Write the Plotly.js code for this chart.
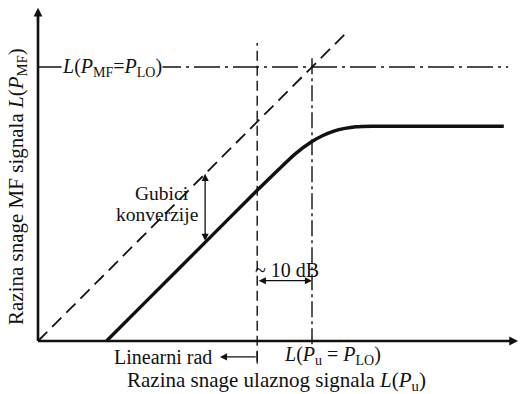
<!DOCTYPE html>
<html>
<head>
<meta charset="utf-8">
<script src="https://cdn.plot.ly/plotly-3.0.1.min.js"></script>
<style>
  html, body { margin: 0; padding: 0; background: #fff; }
  #chart { width: 520px; height: 394px; }
</style>
</head>
<body>
<div id="chart"></div>
<script>
// Mixer conversion characteristic, levels in dB (arbitrary reference).
// Ideal (loss-free) transfer: output level equals input level.
const idealIn  = [0, 56.5];
const idealOut = [0, 56.5];

// Real IF output level versus RF input level: linear with conversion loss,
// compressing and then saturating.
const inputLevel = [12.5, 20, 30, 40, 44, 47, 50, 52, 54, 56, 58, 61, 85];
const ifLevel    = [0, 7.5, 17.5, 27.5, 31.4, 34.2, 36.4, 37.5, 38.3, 38.8, 39.1, 39.2, 39.2];

// Reference levels
const loLevel = 50;          // L(P_MF = P_LO) and L(P_u = P_LO)
const linearLimit = 40;      // end of linear operation, ~10 dB below P_LO
const lossAt = 30.5;         // input level where conversion loss is marked
const lossTop = 30.5;        // ideal output at that input
const lossBottom = 18;       // real output at that input

const axisEndX = 87.6;
const axisEndY = 60.8;

const serif = 'Liberation Serif, Times New Roman, serif';
const black = '#111';

const traces = [
  // axes
  { x: [0, axisEndX - 1], y: [0, 0], mode: 'lines', line: { color: black, width: 2.6 } },
  { x: [0, 0], y: [0, axisEndY - 1], mode: 'lines', line: { color: black, width: 2.6 } },
  // ideal 1:1 line
  { x: idealIn, y: idealOut, mode: 'lines', line: { color: black, width: 1.8, dash: '13px,7px' } },
  // P_MF = P_LO level
  { x: [0, 85.8], y: [loLevel, loLevel], mode: 'lines',
    line: { color: black, width: 1.4, dash: '26px,5px,3px,5px' } },
  // linear-operation limit
  { x: [linearLimit, linearLimit], y: [-3.6, 54.4], mode: 'lines',
    line: { color: black, width: 1.4, dash: '10px,5px' } },
  // P_u = P_LO input level
  { x: [loLevel, loLevel], y: [-0.6, 51.8], mode: 'lines',
    line: { color: black, width: 1.4, dash: '16px,4px,3px,4px' } },
  // tick closing the "Linearni rad" arrow
  { x: [linearLimit, linearLimit], y: [-1.9, -4.1], mode: 'lines', line: { color: black, width: 1.4 } },
  // real mixer characteristic
  { x: inputLevel, y: ifLevel, mode: 'lines', line: { color: black, width: 3.4, shape: 'spline', smoothing: 0.6 } }
];

const arrow = (x, y, ax, ay, extra) => Object.assign({
  x: x, y: y, ax: ax, ay: ay, xref: 'x', yref: 'y', axref: 'x', ayref: 'y',
  text: '', showarrow: true, arrowhead: 2, arrowsize: 1, arrowwidth: 1.3, arrowcolor: black
}, extra || {});

const font = (size) => ({ family: serif, size: size, color: black });

const label = (x, y, text, extra) => Object.assign({
  x: x, y: y, xref: 'x', yref: 'y', text: text, showarrow: false, font: font(20),
  xanchor: 'center', yanchor: 'middle'
}, extra || {});

const annotations = [
  // axis arrowheads
  arrow(axisEndX, 0, axisEndX - 3, 0, { arrowwidth: 2.2, arrowsize: 0.8 }),
  arrow(0, axisEndY, 0, axisEndY - 3, { arrowwidth: 2.2, arrowsize: 0.8 }),
  // conversion loss
  arrow(lossAt, lossTop, lossAt, lossBottom, { arrowside: 'end+start', arrowsize: 1.1 }),
  // ~10 dB span
  arrow(loLevel, 11, linearLimit, 11, { arrowside: 'end+start', arrowsize: 1.1 }),
  // linear operation region
  arrow(33.2, -2.9, linearLimit, -2.9, { arrowsize: 1.1 }),

  label(13.5, loLevel, '<i>L</i>(<i>P</i><sub>MF</sub>=<i>P</i><sub>LO</sub>)',
        { bgcolor: '#fff', borderpad: 0 }),
  label(22.6, 26.9, 'Gubici', { font: font(19.5) }),
  label(21.8, 23.0, 'konverzije', { font: font(19.5) }),
  label(45.4, 12.9, '~ 10 dB'),
  label(32.2, -2.9, 'Linearni rad', { xanchor: 'right' }),
  label(53.7, -2.7, '<i>L</i>(<i>P</i><sub>u</sub> = <i>P</i><sub>LO</sub>)'),

  // axis titles
  { x: 276 / 520, y: 1 - 381 / 394, xref: 'paper', yref: 'paper', showarrow: false,
    xanchor: 'center', yanchor: 'middle',
    text: 'Razina snage ulaznog signala <i>L</i>(<i>P</i><sub>u</sub>)', font: font(21) },
  { x: 17 / 520, y: 1 - 187 / 394, xref: 'paper', yref: 'paper', showarrow: false, textangle: -90,
    xanchor: 'center', yanchor: 'middle',
    text: 'Razina snage MF signala <i>L</i>(<i>P</i><sub>MF</sub>)', font: font(21) }
];

const k = 5.48; // px per dB
const layout = {
  width: 520, height: 394,
  margin: { l: 0, r: 0, t: 0, b: 0 },
  paper_bgcolor: '#fff', plot_bgcolor: '#fff',
  showlegend: false,
  xaxis: { visible: false, range: [-38 / k, 482 / k], fixedrange: true },
  yaxis: { visible: false, range: [-53 / k, 341 / k], fixedrange: true },
  annotations: annotations
};

Plotly.newPlot('chart', traces.map(t => Object.assign({ hoverinfo: 'skip' }, t)), layout,
  { staticPlot: true, displayModeBar: false });
</script>
</body>
</html>
